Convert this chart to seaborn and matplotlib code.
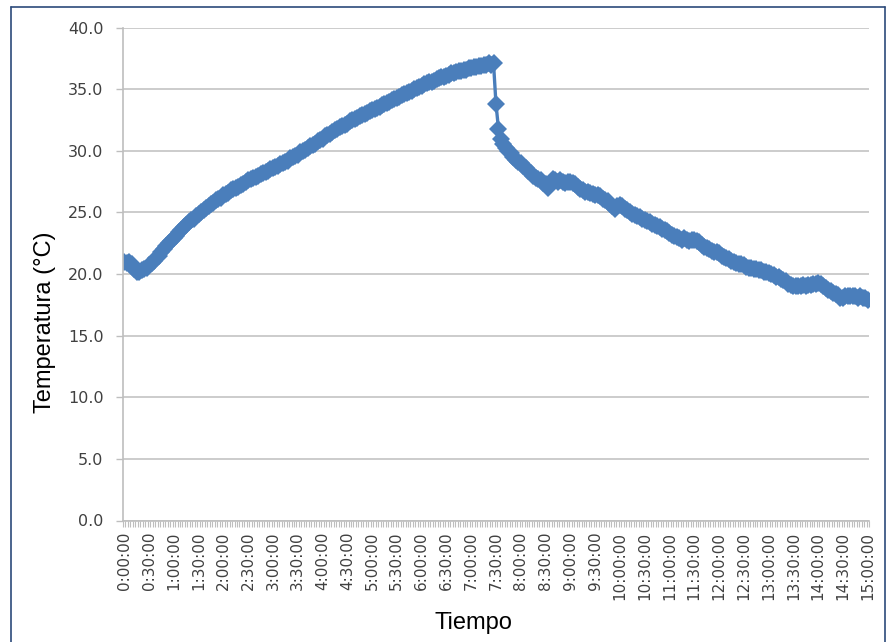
import matplotlib
matplotlib.use("Agg")
import matplotlib.pyplot as plt
import seaborn as sns
import pandas as pd
from matplotlib.lines import Line2D

# ---- data: temperature readings every 3 minutes (0:00:00 .. 15:00:00) ----
temp_rise = [
    21.0, 20.9, 21.0, 20.8, 20.4, 20.2, 20.2, 20.3, 20.4, 20.5,
    20.7, 20.9, 21.1, 21.3, 21.5, 21.8, 22.0, 22.3, 22.5, 22.7,
    22.9, 23.1, 23.4, 23.6, 23.8, 24.0, 24.2, 24.4, 24.5, 24.7,
    24.9, 25.0, 25.2, 25.4, 25.5, 25.7, 25.8, 26.0, 26.1, 26.2,
    26.4, 26.5, 26.6, 26.8, 26.9, 27.0, 27.1, 27.2, 27.3, 27.5,
    27.6, 27.7, 27.8, 27.9, 28.0, 28.1, 28.2, 28.3, 28.4, 28.5,
    28.6, 28.7, 28.8, 28.9, 29.0, 29.1, 29.2, 29.4, 29.5, 29.6,
    29.7, 29.9, 30.0, 30.1, 30.2, 30.4, 30.5, 30.6, 30.8, 30.9,
    31.0, 31.2, 31.3, 31.4, 31.5, 31.7, 31.8, 31.9, 32.0, 32.1,
    32.2, 32.4, 32.5, 32.6, 32.7, 32.8, 32.9, 33.0, 33.1, 33.2,
    33.3, 33.4, 33.5, 33.6, 33.7, 33.8, 33.9, 34.0, 34.1, 34.2,
    34.3, 34.4, 34.5, 34.6, 34.7, 34.8, 34.9, 35.0, 35.1, 35.2,
    35.3, 35.4, 35.5, 35.6, 35.6, 35.7, 35.8, 35.9, 36.0, 36.0,
    36.1, 36.2, 36.3, 36.3, 36.4, 36.5, 36.5, 36.6, 36.6, 36.7,
    36.7, 36.8, 36.8, 36.9, 36.9, 37.0, 37.0, 37.1, 37.0, 37.1,
]
temp_fall = [
    33.8, 31.8, 31.0, 30.6, 30.2, 30.0, 29.8, 29.5, 29.3, 29.1,
    29.0, 28.8, 28.6, 28.4, 28.2, 28.0, 27.8, 27.7, 27.6, 27.4,
    27.3, 27.0, 27.3, 27.7, 27.6, 27.5, 27.6, 27.5, 27.4, 27.5,
    27.5, 27.4, 27.3, 27.1, 26.9, 26.8, 26.7, 26.7, 26.6, 26.5,
    26.4, 26.4, 26.3, 26.1, 26.0, 25.9, 25.7, 25.5, 25.3, 25.5,
    25.6, 25.5, 25.3, 25.2, 25.0, 24.9, 24.8, 24.7, 24.6, 24.5,
    24.4, 24.3, 24.2, 24.1, 24.0, 23.9, 23.8, 23.7, 23.6, 23.5,
    23.3, 23.2, 23.1, 23.0, 22.9, 22.8, 22.9, 22.8, 22.7, 22.8,
    22.8, 22.7, 22.6, 22.4, 22.2, 22.1, 22.0, 21.9, 21.8, 21.8,
    21.7, 21.5, 21.4, 21.3, 21.2, 21.1, 21.0, 20.9, 20.8, 20.8,
    20.7, 20.6, 20.5, 20.5, 20.4, 20.4, 20.3, 20.3, 20.2, 20.2,
    20.1, 20.0, 19.9, 19.8, 19.8, 19.6, 19.5, 19.4, 19.2, 19.1,
    19.0, 19.0, 19.0, 19.0, 19.1, 19.0, 19.1, 19.1, 19.2, 19.2,
    19.3, 19.2, 19.0, 18.9, 18.7, 18.6, 18.5, 18.4, 18.3, 18.1,
    18.1, 18.2, 18.2, 18.2, 18.2, 18.2, 18.1, 18.2, 18.1, 18.1,
    17.9,
]
temperature = temp_rise + temp_fall

tick_labels = [
    "0:00:00", "0:30:00", "1:00:00", "1:30:00", "2:00:00", "2:30:00",
    "3:00:00", "3:30:00", "4:00:00", "4:30:00", "5:00:00", "5:30:00",
    "6:00:00", "6:30:00", "7:00:00", "7:30:00", "8:00:00", "8:30:00",
    "9:00:00", "9:30:00", "10:00:00", "10:30:00", "11:00:00", "11:30:00",
    "12:00:00", "12:30:00", "13:00:00", "13:30:00", "14:00:00", "14:30:00",
    "15:00:00",
]
y_ticks = [0, 5, 10, 15, 20, 25, 30, 35, 40]

points_per_label = 10  # 30 min / 3 min sampling
df = pd.DataFrame({"idx": list(range(len(temperature))), "temp": temperature})

# ---- figure ----
sns.set_style("white")
plt.rcParams["font.family"] = ["DejaVu Sans"]

W, H = 891, 642
fig = plt.figure(figsize=(W / 100, H / 100), dpi=100)
ax_left, ax_right, ax_top, ax_bot = 123, 869, 27.7, 520.5
ax = fig.add_axes([ax_left / W, 1 - ax_bot / H, (ax_right - ax_left) / W, (ax_bot - ax_top) / H])

line_color = "#4A7EBB"
sns.lineplot(data=df, x="idx", y="temp", ax=ax, color=line_color, linewidth=2.4,
             marker="D", markersize=9, markeredgewidth=0, markeredgecolor=line_color)

n = len(temperature)
ax.set_xlim(-0.5, n - 0.5)
ax.set_ylim(0, 40)

grid_color = "#BEBEBE"
ax.set_yticks(y_ticks)
ax.set_yticklabels([f"{v:.1f}" for v in y_ticks])
ax.yaxis.grid(True, color=grid_color, linewidth=1.1)
ax.xaxis.grid(False)
ax.set_axisbelow(True)

ax.set_xticks(list(range(0, n, points_per_label)))
ax.set_xticklabels(tick_labels, rotation=90, va="top", ha="center")
ax.set_xticks([i - 0.5 for i in range(n + 1)], minor=True)

ax.tick_params(axis="y", which="major", length=5, width=1, color=grid_color,
               labelsize=11.5, labelcolor="#404040", pad=9, left=True)
ax.tick_params(axis="x", which="major", length=0, labelsize=11,
               labelcolor="#404040", pad=8, bottom=True)
ax.tick_params(axis="x", which="minor", length=4.5, width=0.8, color=grid_color, bottom=True)

for s in ["top", "right"]:
    ax.spines[s].set_visible(False)
for s in ["left", "bottom"]:
    ax.spines[s].set_color(grid_color)
    ax.spines[s].set_linewidth(1.2)

ax.set_xlabel("")
ax.set_ylabel("")

fig.text(45 / W, 1 - 322 / H, "Temperatura (°C)", rotation=90, ha="center", va="center",
         fontsize=17, family=["Liberation Sans", "DejaVu Sans"], color="#000000")
fig.text(473 / W, 1 - 623 / H, "Tiempo", ha="center", va="center",
         fontsize=17, family=["Liberation Sans", "DejaVu Sans"], color="#000000")

# outer frame
frame_color = "#2C4A7A"
fig.add_artist(Line2D([11 / W, 11 / W], [0, 1 - 7 / H], transform=fig.transFigure,
                      color=frame_color, linewidth=1.2))
fig.add_artist(Line2D([11 / W, 885 / W], [1 - 7 / H, 1 - 7 / H], transform=fig.transFigure,
                      color=frame_color, linewidth=1.2))
fig.add_artist(Line2D([885 / W, 885 / W], [0, 1 - 7 / H], transform=fig.transFigure,
                      color=frame_color, linewidth=1.2))

fig.savefig("out.png", dpi=100, facecolor="white")
